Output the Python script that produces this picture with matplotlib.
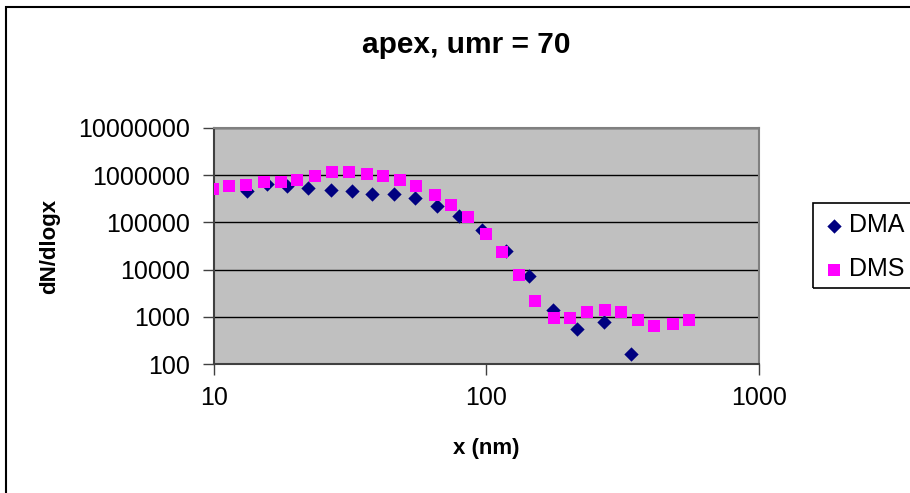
import matplotlib
matplotlib.use("Agg")
import matplotlib.pyplot as plt
from matplotlib.patches import Rectangle

# DMA serie (losanges)
dma_x = [13.2, 15.6, 18.6, 22.2, 26.9, 32.0, 37.9, 45.9, 54.6, 66.0, 79.4,
         96.5, 117.9, 143.2, 175.0, 215.4, 270.0, 338.0]
dma_y = [454000, 651000, 580000, 536000, 493000, 454000, 400000, 406000,
         329000, 218000, 134000, 70100, 24300, 7430, 1410, 552, 760, 165]

# DMS serie (carres)
dms_x = [9.9, 11.35, 13.07, 15.26, 17.57, 20.12, 23.54, 27.1, 31.2, 36.3,
         41.7, 48.0, 55.1, 64.5, 74.1, 85.2, 99.3, 114.3, 131.6, 151.1,
         176.4, 202.5, 233.2, 272.2, 312.4, 359.7, 412.9, 482.4, 554.9]
dms_y = [518000, 580000, 630000, 703000, 703000, 776000, 944000, 1170000,
         1170000, 1060000, 944000, 776000, 580000, 386000, 237000, 129000,
         57700, 23400, 7800, 2120, 943, 943, 1280, 1410, 1280, 869, 639,
         703, 869]

y_ticks = [100, 1000, 10000, 100000, 1000000, 10000000]
x_ticks = [10, 100, 1000]

plt.rcParams['font.family'] = ['Liberation Sans', 'DejaVu Sans']

W, H = 910, 493
fig = plt.figure(figsize=(W / 100, H / 100), dpi=100)
ax = fig.add_axes([214 / W, 1 - 364 / H, 545 / W, 236 / H])

ax.set_facecolor('#c0c0c0')
ax.scatter(dma_x, dma_y, marker='D', s=7.3 ** 2, color='#000080', zorder=3,
           linewidths=0, label='DMA')
ax.scatter(dms_x, dms_y, marker='s', s=8.8 ** 2, color='#ff00ff', zorder=4,
           linewidths=0, label='DMS')

ax.set_xscale('log')
ax.set_yscale('log')
ax.set_xlim(10, 1000)
ax.set_ylim(100, 10000000)
ax.set_xticks(x_ticks)
ax.set_xticklabels([str(v) for v in x_ticks])
ax.set_yticks(y_ticks)
ax.set_yticklabels([str(v) for v in y_ticks])
ax.minorticks_off()
ax.tick_params(axis='both', direction='out', length=8, width=1, color='#404040',
               labelsize=18, pad=9)
ax.tick_params(axis='x', pad=8)
ax.grid(True, axis='y', color='black', linewidth=1, zorder=1)
ax.set_axisbelow(True)

for side in ['left', 'bottom']:
    ax.spines[side].set_color('#404040')
    ax.spines[side].set_linewidth(1.5)
for side in ['right', 'top']:
    ax.spines[side].set_color('#808080')
    ax.spines[side].set_linewidth(1.5)

ax.set_xlabel('x (nm)', fontsize=16, fontweight='bold')
ax.xaxis.set_label_coords(0.5, -0.312)
ax.set_ylabel('dN/dlogx', fontsize=16, fontweight='bold')
ax.yaxis.set_label_coords(-0.283, 0.5)

fig.text(466 / W, 1 - 45 / H, 'apex, umr = 70', fontsize=21.5, fontweight='bold',
         ha='center', va='center')

# cadre de la legende
fig.patches.append(Rectangle((813 / W, 1 - 288 / H), 0.2, 85 / H,
                             transform=fig.transFigure, fill=False,
                             edgecolor='black', linewidth=1.2))
fig.legend(loc='upper left', bbox_to_anchor=(809 / W, 1 - 201 / H),
           frameon=False, fontsize=18, handlelength=1.0, handletextpad=0.1,
           labelspacing=0.8, borderpad=0, scatterpoints=1)

# cadre exterieur
fig.patches.append(Rectangle((6 / W, -0.05), 1.0, 1.05 - 7 / H,
                             transform=fig.transFigure, fill=False,
                             edgecolor='black', linewidth=1.5))

fig.savefig('out.png', dpi=100)
